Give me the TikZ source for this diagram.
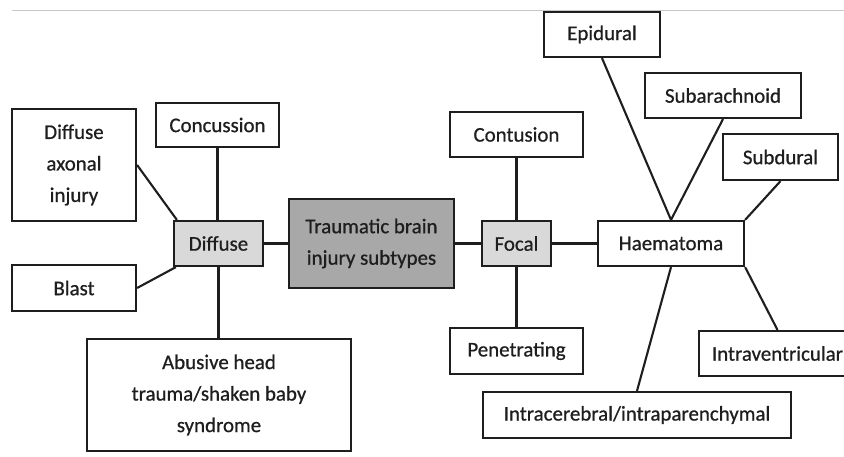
\documentclass[tikz,border=0pt]{standalone}
\usepackage{fontspec}
\setmainfont[FakeBold=0.7]{Carlito}
\begin{document}
\begin{tikzpicture}[x=1pt,y=-1pt,
  box/.style={draw=ink, line width=2.2pt, fill=white, inner sep=0pt, align=center,
    text=ink, font=\fontsize{20.9}{31.5}\selectfont},
  lightbox/.style={box, fill=lightgray2},
  darkbox/.style={box, fill=darkgray2},
  conn/.style={draw=ink, line width=2.1pt}]
\definecolor{ink}{HTML}{1E1E1E}
\definecolor{lightgray2}{HTML}{D9D9D9}
\definecolor{darkgray2}{HTML}{A8A8A8}
\definecolor{rule}{HTML}{C8C8C8}
\clip (0,0) rectangle (844,457);
\fill[white] (0,0) rectangle (844,457);
\coordinate (ruleA) at (12,11);
\coordinate (ruleB) at (844,11);
\draw[rule, line width=1pt] (ruleA) -- (ruleB);

\node[box, minimum width=124, minimum height=112] (dai) at (74,165) {Diffuse\\axonal\\injury};
\node[box, minimum width=123, minimum height=44] (conc) at (217.5,125) {Concussion};
\node[lightbox, minimum width=89, minimum height=45] (diff) at (218.5,243.5) {Diffuse};
\node[box, minimum width=124, minimum height=46] (blast) at (74,288) {Blast};
\node[box, minimum width=264, minimum height=112] (abus) at (219,395) {Abusive head\\trauma/shaken baby\\syndrome};
\node[darkbox, minimum width=165, minimum height=89] (tbi) at (371.5,243.5) {Traumatic brain\\injury subtypes};
\node[lightbox, minimum width=69, minimum height=45] (focal) at (516.5,243.5) {Focal};
\node[box, minimum width=133, minimum height=45] (cont) at (516.5,134.5) {Contusion};
\node[box, minimum width=133, minimum height=46] (pen) at (516.5,351) {Penetrating};
\node[box, minimum width=146, minimum height=45] (haem) at (671,243.5) {Haematoma};
\node[box, minimum width=116, minimum height=45] (epi) at (602,34.5) {Epidural};
\node[box, minimum width=156, minimum height=45] (subar) at (723,95.5) {Subarachnoid};
\node[box, minimum width=115, minimum height=46] (subd) at (780.5,157) {Subdural};
\node[box, minimum width=308, minimum height=46] (intrac) at (637,415) {Intracerebral/intraparenchymal};
\node[box, minimum width=157, minimum height=45] (intrav) at (777.5,353.5) {Intraventricular};

\draw[conn] (conc.south) -- (conc.south |- diff.north);
\draw[conn] (dai.east) -- ([xshift=4pt]diff.north west);
\draw[conn] (blast.east) -- ([xshift=3pt]diff.south west);
\draw[conn] (diff.south) -- (diff.south |- abus.north);
\draw[conn] (diff.east) -- (tbi.west);
\draw[conn] (tbi.east) -- (focal.west);
\draw[conn] (focal.east) -- (haem.west);
\draw[conn] (cont.south) -- (focal.north);
\draw[conn] (focal.south) -- (pen.north);
\draw[conn] (epi.south) -- (haem.north);
\draw[conn] (subar.south) -- (haem.north);
\draw[conn] (subd.south) -- (haem.north east);
\draw[conn] (haem.south) -- (intrac.north);
\draw[conn] (haem.south east) -- (intrav.north);
\end{tikzpicture}
\end{document}
